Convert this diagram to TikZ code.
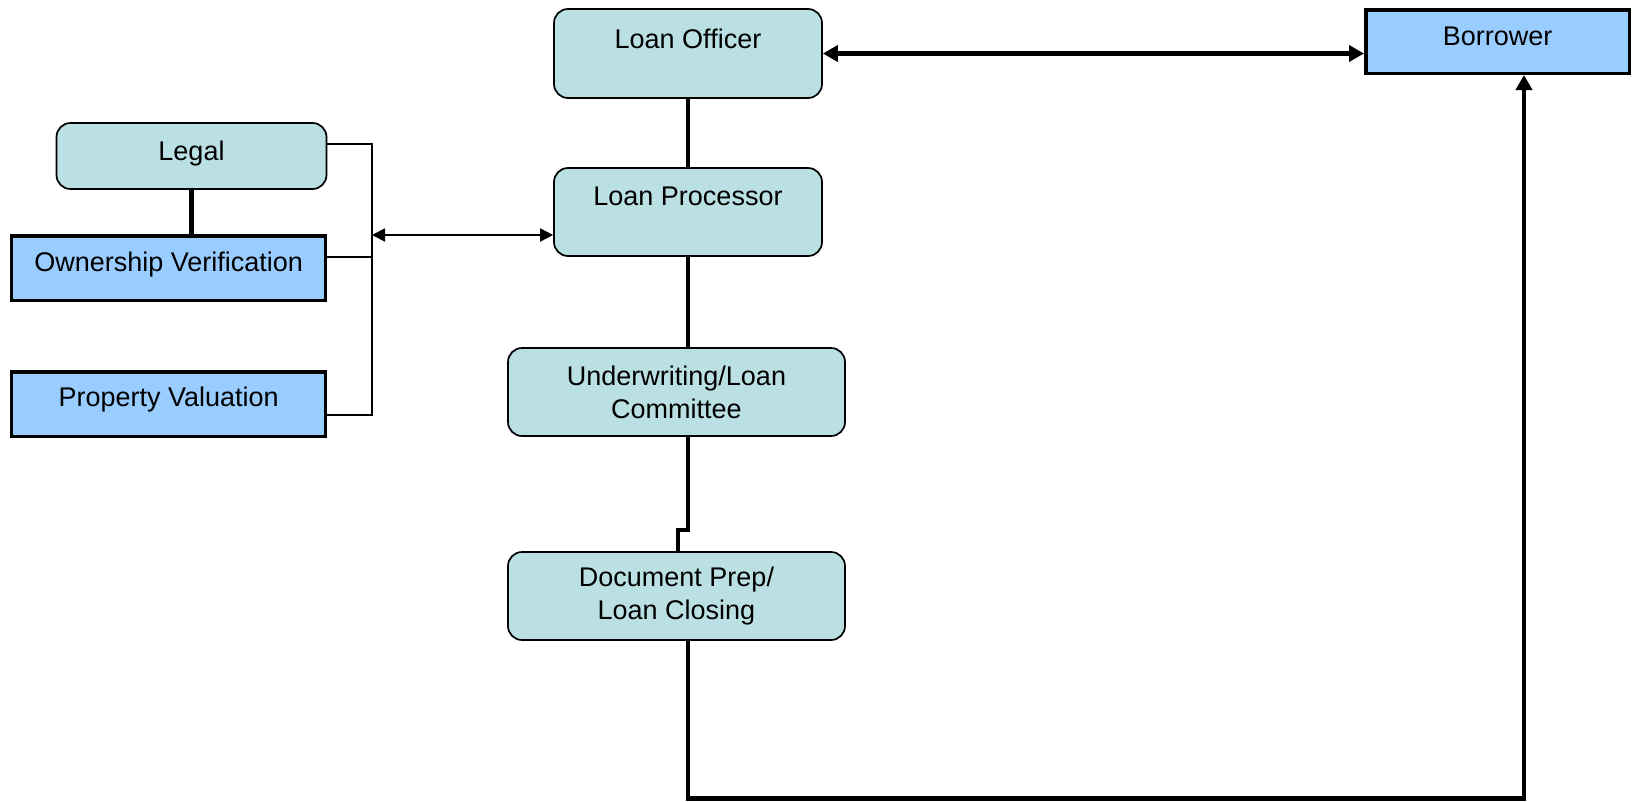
\documentclass[tikz,border=0pt]{standalone}
\usepackage{fontspec}
\setmainfont{Liberation Sans}
\usetikzlibrary{arrows.meta}
\definecolor{tealbox}{RGB}{187,224,227}
\definecolor{bluebox}{RGB}{153,204,255}
\tikzset{
  tealnode/.style={draw=black, line width=1.7pt, fill=tealbox, rounded corners=14pt,
    inner sep=0pt, align=center, font=\fontsize{27}{33}\selectfont},
  bluenode/.style={draw=black, line width=3.5pt, fill=bluebox, inner sep=0pt,
    align=center, font=\fontsize{27}{33}\selectfont},
  thickline/.style={line width=4.5pt},
  thinline/.style={line width=1.8pt},
  bigtip/.tip={Triangle[length=15pt,width=16pt]},
  smalltip/.tip={Triangle[length=13pt,width=13pt]},
}
\begin{document}
\begin{tikzpicture}[x=1pt,y=-1pt]
\useasboundingbox (0,0) rectangle (1633,801);

% nodes
\node[tealnode, minimum width=268pt, minimum height=89pt, text height=20pt, text depth=31pt] (lo) at (688,53.5) {Loan Officer};
\node[tealnode, minimum width=268pt, minimum height=88pt, text height=20pt, text depth=34pt] (lp) at (688,212) {Loan Processor};
\node[tealnode, minimum width=337pt, minimum height=88pt] (uw) at (676.5,392) {Underwriting/Loan\\Committee};
\node[tealnode, minimum width=337pt, minimum height=88pt] (dp) at (676.5,596) {Document Prep/\\Loan Closing};
\node[tealnode, minimum width=270pt, minimum height=66pt, text height=20pt, text depth=12pt] (legal) at (191.5,156) {Legal};
\node[bluenode, minimum width=314pt, minimum height=64.5pt, text height=20pt, text depth=14pt] (ov) at (168.7,268) {Ownership Verification};
\node[bluenode, minimum width=314pt, minimum height=64.5pt, text height=20pt, text depth=16pt] (pv) at (168.7,404) {Property Valuation};
\node[bluenode, minimum width=263.5pt, minimum height=63.5pt, text height=20pt, text depth=13pt] (bor) at (1497.5,41.5) {Borrower};

% helper coordinates
\coordinate (bt) at (372,144);
\coordinate (bo) at (372,257);
\coordinate (bb) at (372,415);
\coordinate (bm) at (372,235);
\coordinate (s1) at (688,530);
\coordinate (s2) at (678,530);
\coordinate (c1) at (688,798.5);
\coordinate (c2) at (1524,798.5);

% main column connectors
\draw[thickline] (lo) -- (lp);
\draw[thickline] (lp.south) -- (lp.south |- uw.north);
\draw[thickline] (lp.south |- uw.south) -- (s1) -- (s2) -- (s2 |- dp.north);
\draw[thickline, -{bigtip}] (lo.south |- dp.south) -- (c1) -- (c2) -- (c2 |- bor.south);

% loan officer <-> borrower
\draw[thickline, {bigtip}-{bigtip}] (lo.east) -- (lo.east -| bor.west);

% left group
\draw[thickline] (legal) -- (legal.south |- ov.north);
\draw[thinline] (legal.east |- bt) -- (bt) -- (bb) -- (pv.east |- bb);
\draw[thinline] (ov.east |- bo) -- (bo);
\draw[thinline, {smalltip}-{smalltip}] (bm) -- (bm -| lp.west);
\end{tikzpicture}
\end{document}
